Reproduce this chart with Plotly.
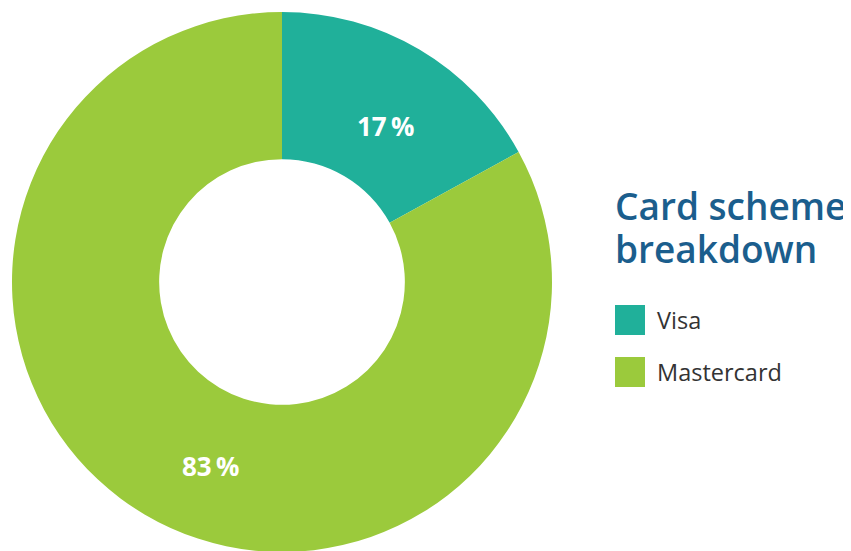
import plotly.graph_objects as go

labels = ["Visa", "Mastercard"]
values = [17, 83]
colors = ["#20B09A", "#9BCA3C"]
title_lines = ["Card scheme", "breakdown"]

W, H = 851, 551
# the page has an 8px body margin; figure coordinates below are in figure px
def px(x):
    return x / W

def py(y):
    return 1 - y / H

fig = go.Figure()
fig.add_trace(go.Pie(
    labels=labels,
    values=values,
    hole=0.455,
    sort=False,
    direction="clockwise",
    rotation=0,
    marker=dict(colors=colors, line=dict(width=0)),
    textinfo="none",
    domain=dict(x=[px(4), px(544)], y=[py(544), py(4)]),
    showlegend=False,
    hoverinfo="label+percent",
))

annotations = []
# slice value labels
label_pos = [(377, 118), (202, 458)]
for v, (lx, ly) in zip(values, label_pos):
    annotations.append(dict(
        x=px(lx), y=py(ly), xref="paper", yref="paper",
        xanchor="center", yanchor="middle",
        text=f"{v}\u2009%", showarrow=False,
        font=dict(family="Open Sans", size=26, color="white", weight=700),
    ))

# title
for i, line in enumerate(title_lines):
    annotations.append(dict(
        x=px(605), y=py(170 + i * 43), xref="paper", yref="paper",
        xanchor="left", yanchor="top", align="left",
        text=line, showarrow=False,
        font=dict(family="Open Sans", size=37, color="#1B5E8D", weight=600),
    ))

shapes = []
for i, (lab, col) in enumerate(zip(labels, colors)):
    top = 297 + i * 52
    shapes.append(dict(
        type="rect", xref="paper", yref="paper",
        x0=px(607), x1=px(637), y0=py(top + 30), y1=py(top),
        fillcolor=col, line=dict(width=0),
    ))
    annotations.append(dict(
        x=px(647), y=py(top + 15), xref="paper", yref="paper",
        xanchor="left", yanchor="middle", text=lab, showarrow=False,
        font=dict(family="Open Sans", size=23.5, color="#333333"),
    ))

fig.update_layout(
    width=W, height=H,
    margin=dict(l=0, r=0, t=0, b=0),
    paper_bgcolor="white", plot_bgcolor="white",
    annotations=annotations, shapes=shapes,
)

fig.write_html("out.html")
